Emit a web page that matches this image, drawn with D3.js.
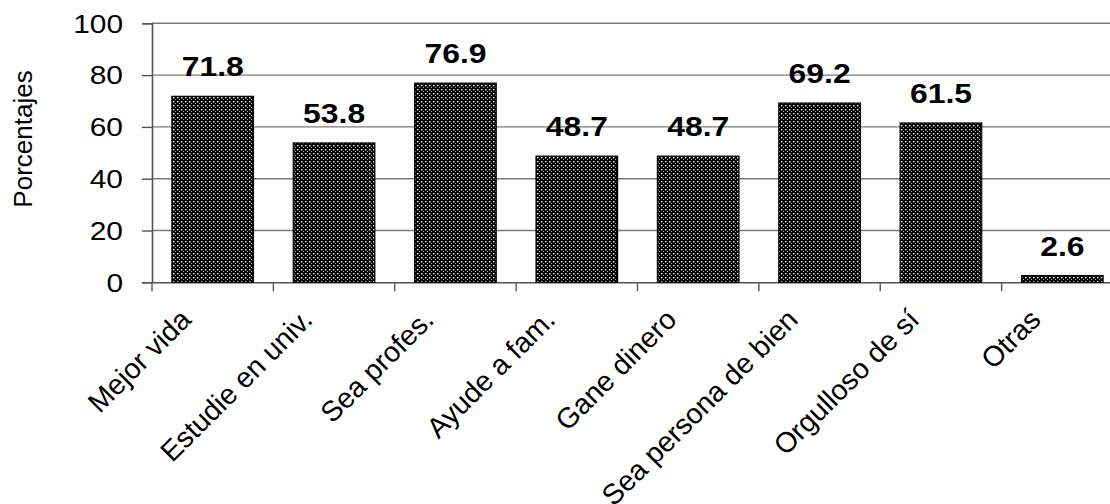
<!DOCTYPE html>
<html><head><meta charset="utf-8">
<script src="https://cdn.jsdelivr.net/npm/d3@7"></script>
<style>html,body{margin:0;padding:0;background:#fff;overflow:hidden}</style>
</head><body>
<svg id="chart" width="1110" height="504"></svg>
<script>
const categories = ["Mejor vida","Estudie en univ.","Sea profes.","Ayude a fam.","Gane dinero","Sea persona de bien","Orgulloso de sí","Otras"];
const values = [71.8,53.8,76.9,48.7,48.7,69.2,61.5,2.6];
const yTicks = [0,20,40,60,80,100];
const yLabel = "Porcentajes";

(function(){
const svg = d3.select("#chart");
const mLeft = 152, mRight = 1123, mTop = 23.3, mBottom = 282.3;
const x = d3.scaleBand().domain(categories).range([mLeft, mRight]).paddingInner(0.328).paddingOuter(0.164);
const y = d3.scaleLinear().domain([0,100]).range([mBottom, mTop]);

const defs = svg.append("defs");
const pat = defs.append("pattern").attr("id","dots").attr("patternUnits","userSpaceOnUse")
  .attr("width",4).attr("height",4);
pat.append("rect").attr("width",4).attr("height",4).attr("fill","#000");
pat.append("rect").attr("x",1).attr("y",1).attr("width",1.4).attr("height",1.4).attr("fill","#fff");
pat.append("rect").attr("x",3).attr("y",3).attr("width",1).attr("height",1).attr("fill","#aaa");

// gridlines
svg.append("g").selectAll("line").data(yTicks.filter(d=>d>0)).join("line")
  .attr("x1",mLeft).attr("x2",1110).attr("y1",d=>y(d)).attr("y2",d=>y(d))
  .attr("stroke","#7a7a7a").attr("stroke-width",1.4);

// y axis
const yAxis = svg.append("g").attr("transform",`translate(${mLeft},0)`)
  .call(d3.axisLeft(y).tickValues(yTicks).tickSize(10).tickFormat(d3.format("d")));
yAxis.select(".domain").attr("stroke","#555").attr("stroke-width",1.6);
yAxis.selectAll(".tick line").attr("stroke","#555").attr("stroke-width",1.4);
yAxis.selectAll(".tick text").attr("font-family","Liberation Sans, Arial, sans-serif")
  .attr("font-size",26).attr("fill","#000").attr("x",0).attr("dy",null).attr("dominant-baseline","central")
  .attr("text-anchor","end")
  .attr("transform","translate(-29,0) scale(1.15,1)");

// x axis
const xAxis = svg.append("g").attr("transform",`translate(0,${mBottom})`)
  .call(d3.axisBottom(x).tickSize(0).tickFormat(""));
xAxis.select(".domain").attr("stroke","#555").attr("stroke-width",1.6);
const step = x.step();
const bounds = d3.range(categories.length).map(i => x.range()[0] + i*step);
svg.append("g").selectAll("line").data(bounds).join("line")
  .attr("x1",d=>d).attr("x2",d=>d).attr("y1",mBottom).attr("y2",mBottom+9)
  .attr("stroke","#555").attr("stroke-width",1.4);

// bars
svg.append("g").selectAll("rect").data(values).join("rect")
  .attr("x",(d,i)=>x(categories[i])).attr("width",x.bandwidth())
  .attr("y",d=>y(d)).attr("height",d=>mBottom-y(d))
  .attr("fill","url(#dots)").attr("stroke","#000").attr("stroke-width",1.2);

// value labels
svg.append("g").selectAll("text").data(values).join("text")
  .attr("transform",(d,i)=>`translate(${x(categories[i])+x.bandwidth()/2},${y(d)-20}) scale(1.14,1)`)
  .attr("text-anchor","middle").attr("font-family","Liberation Sans, Arial, sans-serif")
  .attr("font-weight","bold").attr("font-size",28).attr("fill","#000")
  .text(d=>d.toFixed(1));

// category labels
svg.append("g").selectAll("text").data(categories).join("text")
  .attr("transform",d=>`translate(${x(d)+x.bandwidth()/2-20},${mBottom+39}) rotate(-45)`)
  .attr("text-anchor","end").attr("font-family","Liberation Sans, Arial, sans-serif")
  .attr("font-size",28.5).attr("fill","#000")
  .text(d=>d);

// y label
svg.append("text").attr("transform","translate(32,139) rotate(-90)")
  .attr("text-anchor","middle").attr("font-family","Liberation Sans, Arial, sans-serif")
  .attr("font-size",26).attr("fill","#000").text(yLabel);
})();
</script>
</body></html>
